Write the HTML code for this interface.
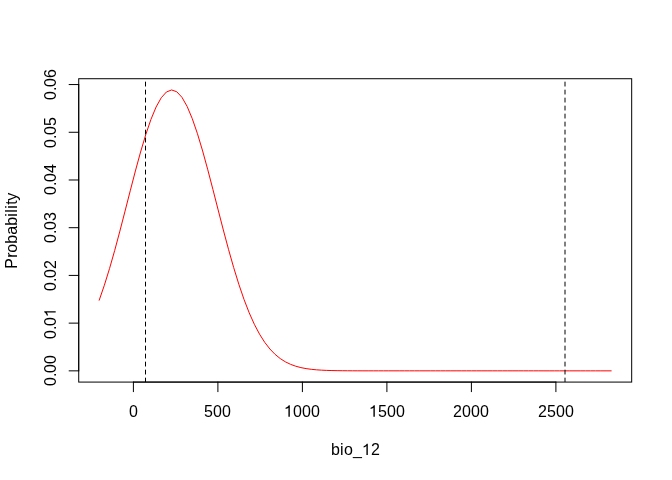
<!DOCTYPE html>
<html><head><meta charset="utf-8"><style>
html,body{margin:0;padding:0;background:#fff;width:672px;height:480px;overflow:hidden}
body{-webkit-font-smoothing:antialiased}
svg{display:block;will-change:transform}
text{font-family:"Liberation Sans",sans-serif;font-size:16px;fill:#000}
path{fill:#000}
</style></head><body>
<svg width="672" height="480" viewBox="0 0 672 480">
<rect x="0" y="0" width="672" height="480" fill="#ffffff"/>
<defs><clipPath id="c"><rect x="78.72" y="78.72" width="552.96" height="303.36"/></clipPath></defs>
<g clip-path="url(#c)">
<polyline points="99.20,300.23 104.37,285.21 109.54,268.52 114.72,250.37 119.89,231.09 125.06,211.08 130.23,190.85 135.40,170.96 140.57,152.03 145.75,134.67 150.92,119.49 156.09,107.03 161.26,97.74 166.43,91.98 171.60,89.96 176.78,91.76 181.95,97.31 187.12,106.40 192.29,118.69 197.46,133.73 202.63,150.98 207.81,169.83 212.98,189.68 218.15,209.91 223.32,229.95 228.49,249.29 233.66,267.51 238.84,284.29 244.01,299.41 249.18,312.77 254.35,324.32 259.52,334.13 264.69,342.29 269.87,348.97 275.04,354.33 280.21,358.56 285.38,361.84 290.55,364.34 295.73,366.21 300.90,367.60 306.07,368.60 311.24,369.31 316.41,369.82 321.58,370.16 326.76,370.40 331.93,370.56 337.10,370.66 342.27,370.73 347.44,370.78 352.61,370.80 357.79,370.82 362.96,370.83 368.13,370.84 373.30,370.84 378.47,370.84 383.64,370.84 388.82,370.84 393.99,370.84 399.16,370.84 404.33,370.84 409.50,370.84 414.67,370.84 419.85,370.84 425.02,370.84 430.19,370.84 435.36,370.84 440.53,370.84 445.71,370.84 450.88,370.84 456.05,370.84 461.22,370.84 466.39,370.84 471.56,370.84 476.74,370.84 481.91,370.84 487.08,370.84 492.25,370.84 497.42,370.84 502.59,370.84 507.77,370.84 512.94,370.84 518.11,370.84 523.28,370.84 528.45,370.84 533.62,370.84 538.80,370.84 543.97,370.85 549.14,370.85 554.31,370.85 559.48,370.85 564.65,370.85 569.83,370.85 575.00,370.85 580.17,370.85 585.34,370.85 590.51,370.85 595.68,370.85 600.86,370.85 606.03,370.85 611.20,370.85" fill="none" stroke="#ff0000" stroke-width="1" stroke-linejoin="round" stroke-linecap="round"/>
<line x1="145.50" y1="382.08" x2="145.50" y2="78.72" stroke="#000" stroke-width="1" stroke-dasharray="4 4" stroke-linecap="round"/>
<line x1="565.00" y1="382.08" x2="565.00" y2="78.72" stroke="#000" stroke-width="1" stroke-dasharray="4 4" stroke-linecap="round"/>
</g>
<rect x="78.72" y="78.72" width="552.96" height="303.36" fill="none" stroke="#000" stroke-width="1"/>
<line x1="133.40" y1="382.08" x2="555.90" y2="382.08" stroke="#000" stroke-width="1" stroke-linecap="round"/>
<line x1="133.40" y1="382.08" x2="133.40" y2="391.68" stroke="#000" stroke-width="1" stroke-linecap="round"/>
<line x1="217.90" y1="382.08" x2="217.90" y2="391.68" stroke="#000" stroke-width="1" stroke-linecap="round"/>
<line x1="302.40" y1="382.08" x2="302.40" y2="391.68" stroke="#000" stroke-width="1" stroke-linecap="round"/>
<line x1="386.90" y1="382.08" x2="386.90" y2="391.68" stroke="#000" stroke-width="1" stroke-linecap="round"/>
<line x1="471.40" y1="382.08" x2="471.40" y2="391.68" stroke="#000" stroke-width="1" stroke-linecap="round"/>
<line x1="555.90" y1="382.08" x2="555.90" y2="391.68" stroke="#000" stroke-width="1" stroke-linecap="round"/>
<g transform="translate(129,416.640)"><text x="0" y="0">0</text></g>
<g transform="translate(204,416.640)"><text x="0 9 18" y="0">500</text></g>
<g transform="translate(284,416.640)"><path transform="translate(0.000,0) scale(0.007812,-0.007812)" d="M745 0L565 0L565 1150Q490 1085 400 1040Q300 990 205 965L205 1135Q340 1180 450 1265Q560 1350 615 1460L745 1460Z"/><text x="9 18 27" y="0">000</text></g>
<g transform="translate(369,416.640)"><path transform="translate(0.000,0) scale(0.007812,-0.007812)" d="M745 0L565 0L565 1150Q490 1085 400 1040Q300 990 205 965L205 1135Q340 1180 450 1265Q560 1350 615 1460L745 1460Z"/><text x="9 18 27" y="0">500</text></g>
<g transform="translate(453,416.640)"><text x="0 9 18 27" y="0">2000</text></g>
<g transform="translate(538,416.640)"><text x="0 9 18 27" y="0">2500</text></g>
<line x1="78.72" y1="370.85" x2="78.72" y2="84.56" stroke="#000" stroke-width="1" stroke-linecap="round"/>
<line x1="78.72" y1="370.85" x2="69.12" y2="370.85" stroke="#000" stroke-width="1" stroke-linecap="round"/>
<line x1="78.72" y1="323.13" x2="69.12" y2="323.13" stroke="#000" stroke-width="1" stroke-linecap="round"/>
<line x1="78.72" y1="275.42" x2="69.12" y2="275.42" stroke="#000" stroke-width="1" stroke-linecap="round"/>
<line x1="78.72" y1="227.70" x2="69.12" y2="227.70" stroke="#000" stroke-width="1" stroke-linecap="round"/>
<line x1="78.72" y1="179.99" x2="69.12" y2="179.99" stroke="#000" stroke-width="1" stroke-linecap="round"/>
<line x1="78.72" y1="132.27" x2="69.12" y2="132.27" stroke="#000" stroke-width="1" stroke-linecap="round"/>
<line x1="78.72" y1="84.56" x2="69.12" y2="84.56" stroke="#000" stroke-width="1" stroke-linecap="round"/>
<g transform="translate(55.680,386) rotate(-90)"><text x="0 9 13 22" y="0">0.00</text></g>
<g transform="translate(55.680,339) rotate(-90)"><path transform="translate(22.000,0) scale(0.007812,-0.007812)" d="M745 0L565 0L565 1150Q490 1085 400 1040Q300 990 205 965L205 1135Q340 1180 450 1265Q560 1350 615 1460L745 1460Z"/><text x="0 9 13" y="0">0.0</text></g>
<g transform="translate(55.680,291) rotate(-90)"><text x="0 9 13 22" y="0">0.02</text></g>
<g transform="translate(55.680,243) rotate(-90)"><text x="0 9 13 22" y="0">0.03</text></g>
<g transform="translate(55.680,195) rotate(-90)"><text x="0 9 13 22" y="0">0.04</text></g>
<g transform="translate(55.680,148) rotate(-90)"><text x="0 9 13 22" y="0">0.05</text></g>
<g transform="translate(55.680,100) rotate(-90)"><text x="0 9 13 22" y="0">0.06</text></g>
<g transform="translate(331,455.040)"><path transform="translate(31.000,0) scale(0.007812,-0.007812)" d="M745 0L565 0L565 1150Q490 1085 400 1040Q300 990 205 965L205 1135Q340 1180 450 1265Q560 1350 615 1460L745 1460Z"/><text x="0 9 13 22 40" y="0">bio_2</text></g>
<g transform="translate(17.280,268.8) rotate(-90)"><text x="0 11 16 25 34 43 52 56 60 64 68" y="0">Probability</text></g>
</svg>
</body></html>
